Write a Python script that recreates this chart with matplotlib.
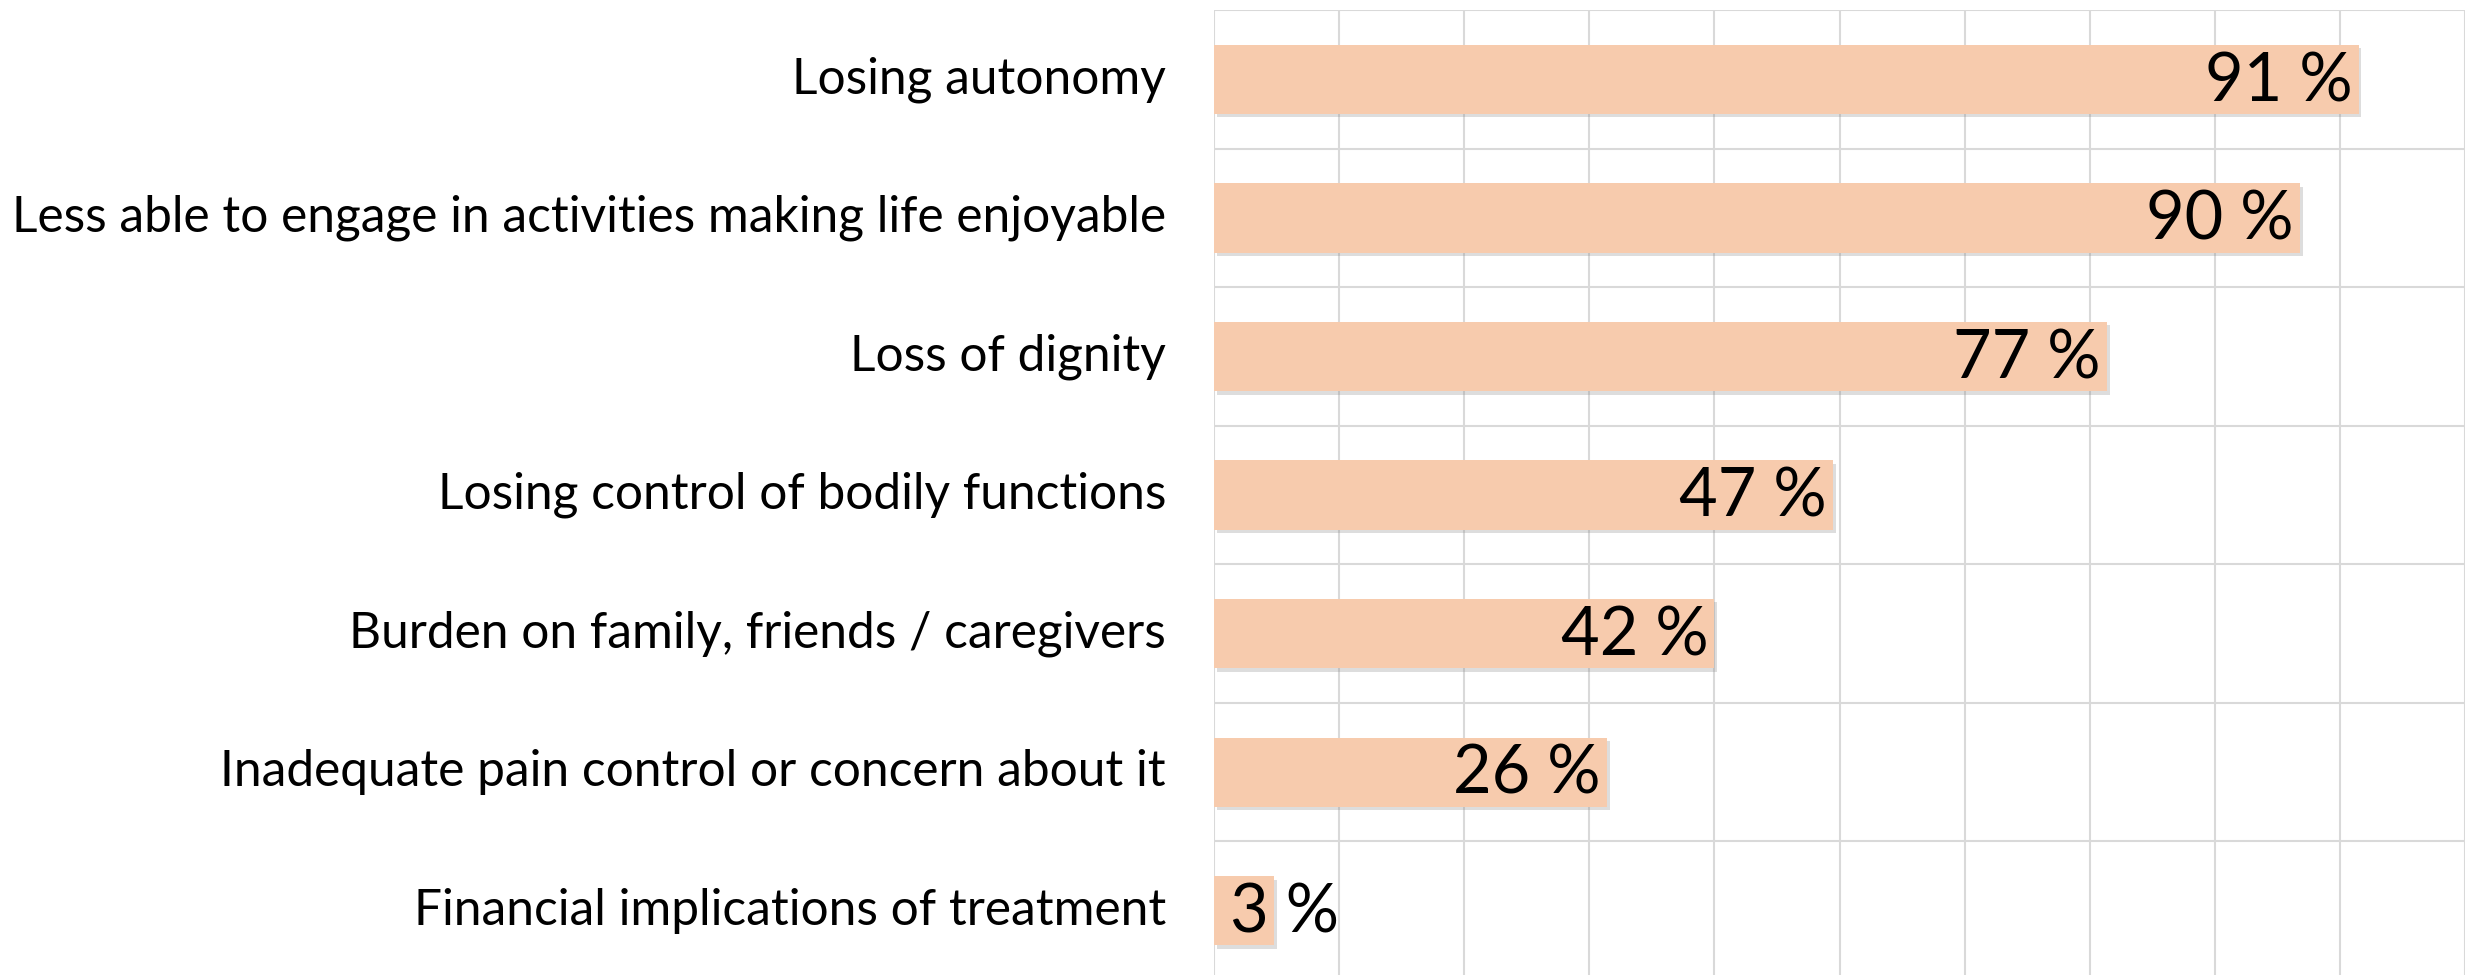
import matplotlib.pyplot as plt
import matplotlib.patheffects as pe
import numpy as np

categories = ['Losing autonomy',
              'Less able to engage in activities making life enjoyable',
              'Loss of dignity',
              'Losing control of bodily functions',
              'Burden on family, friends / caregivers',
              'Inadequate pain control or concern about it',
              'Financial implications of treatment']
# bar lengths as drawn (the printed labels do not match them exactly)
bar_values = [91.5, 86.8, 71.4, 49.5, 40.0, 31.4, 4.8]
value_labels = ['91 %', '90 %', '77 %', '47 %', '42 %', '26 %', '3 %']

bar_color = '#F7CBAD'
grid_color = '#D9D9D9'

W, H = 2470, 975
fig = plt.figure(figsize=(W / 100, H / 100), dpi=100)
ax = fig.add_axes([1214 / W, -5 / H, 1251 / W, 970 / H])

y = np.arange(len(categories))
bars = ax.barh(y, bar_values, height=0.5, color=bar_color, zorder=3)
for b in bars:
    b.set_path_effects([pe.SimplePatchShadow(offset=(2, -2.5), shadow_rgbFace='#909090', alpha=0.3),
                        pe.Normal()])

ax.set_xlim(0, 100)
ax.set_ylim(len(categories) - 0.5, -0.5)

ax.set_xticks(np.arange(0, 101, 10))
ax.set_yticks(np.arange(-0.5, len(categories), 1.0))
ax.grid(True, color=grid_color, linewidth=1.5, zorder=0)
ax.tick_params(left=False, bottom=False, labelbottom=False, labelleft=False)
for s in ax.spines.values():
    s.set_visible(False)

for yi, cat in zip(y, categories):
    ax.text(-48 / 1251 * 100, yi, cat, ha='right', va='center',
            fontsize=35.7, family='Lato', color='black')

for yi, v, lab in zip(y, bar_values, value_labels):
    if v < 10:
        ax.text(1.3, yi + 0.02, lab, ha='left', va='center',
                fontsize=48, family='Lato', color='black', zorder=4)
    else:
        ax.text(v - 0.5, yi + 0.02, lab, ha='right', va='center',
                fontsize=48, family='Lato', color='black', zorder=4)

fig.savefig('out.png', dpi=100)
